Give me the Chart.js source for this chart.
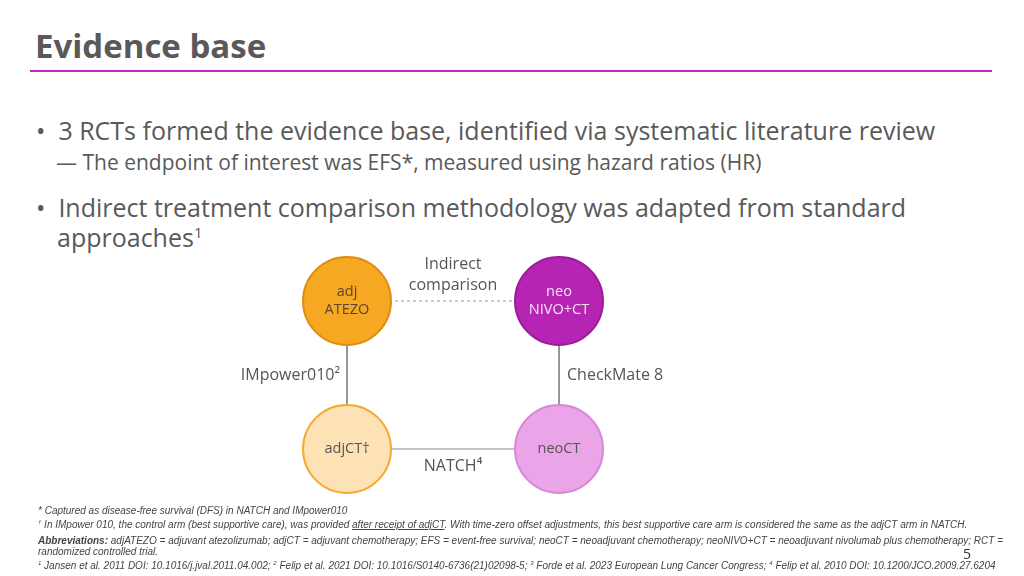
<!DOCTYPE html>
<html><head><meta charset="utf-8">
<script src="https://cdn.jsdelivr.net/npm/chart.js@4"></script>
<style>
body{margin:0;width:1024px;height:576px;position:relative;background:#fff;font-family:"Open Sans",sans-serif;color:#555;overflow:hidden}
.a{position:absolute;white-space:nowrap}
h1{position:absolute;left:35px;top:23px;margin:0;font-size:33px;font-weight:bold;color:#595959;font-family:"Open Sans",sans-serif}
.rule{position:absolute;left:30px;top:70px;width:962px;height:2px;background:#C026B9}
.b1{font-size:25px;color:#595959}
.b2{font-size:21px;color:#595959}
.fn{font-size:10px;font-style:italic;color:#444;font-family:"Liberation Sans",sans-serif}
sup{font-size:60%}
</style></head><body>
<h1>Evidence base</h1><div class="rule"></div>
<div class="a b1" style="left:36px;top:113px">•&nbsp; 3 RCTs formed the evidence base, identified via systematic literature review</div>
<div class="a b2" style="left:56px;top:148px">— The endpoint of interest was EFS*, measured using hazard ratios (HR)</div>
<div class="a b1" style="left:36px;top:190px">•&nbsp; Indirect treatment comparison methodology was adapted from standard</div>
<div class="a b1" style="left:57px;top:220px">approaches<sup>1</sup></div>
<div style="position:absolute;left:241px;top:227px;width:424px;height:296px"><canvas id="c"></canvas></div>
<div class="a fn" style="left:38px;top:505px">* Captured as disease-free survival (DFS) in NATCH and IMpower010</div>
<div class="a fn" style="left:38px;top:519px"><sup>†</sup> In IMpower 010, the control arm (best supportive care), was provided <u>after receipt of adjCT</u>. With time-zero offset adjustments, this best supportive care arm is considered the same as the adjCT arm in NATCH.</div>
<div class="a fn" style="left:38px;top:535px"><b>Abbreviations:</b> adjATEZO = adjuvant atezolizumab; adjCT = adjuvant chemotherapy; EFS = event-free survival; neoCT = neoadjuvant chemotherapy; neoNIVO+CT = neoadjuvant nivolumab plus chemotherapy; RCT =</div>
<div class="a fn" style="left:38px;top:546px">randomized controlled trial.</div>
<div class="a fn" style="left:38px;top:560px"><sup>1</sup> Jansen et al. 2011 DOI: 10.1016/j.jval.2011.04.002; <sup>2</sup> Felip et al. 2021 DOI: 10.1016/S0140-6736(21)02098-5; <sup>3</sup> Forde et al. 2023 European Lung Cancer Congress; <sup>4</sup> Felip et al. 2010 DOI: 10.1200/JCO.2009.27.6204</div>
<div class="a" style="left:963px;top:544px;font-size:14px;color:#333">5</div>
<script>
const nodeNames=[["adj","ATEZO"],["neo","NIVO+CT"],["adjCT†"],["neoCT"]];
const nodeX=[0,1,0,1];
const nodeY=[1,1,0,0];
const edges=[[0,1,"Indirect comparison",true],[0,2,"IMpower010²",false],[1,3,"CheckMate 816³",false],[2,3,"NATCH⁴",false]];
const fills=["#F7A823","#B624B4","#FDE2B5","#EAA4E8"];
const borders=["#E08E12","#9C1C9A","#F5AB30","#D889D6"];
const txt=["#5a4630","#f4e6f4","#555","#555"];
const edgeSets=edges.map(e=>({type:'line',data:[{x:nodeX[e[0]],y:nodeY[e[0]]},{x:nodeX[e[1]],y:nodeY[e[1]]}],borderColor:e[3]?'#999':'#888',borderWidth:1,borderDash:e[3]?[3,3]:[],pointRadius:0,order:2}));
const lab={id:'lab',afterDatasetsDraw(ch){const c=ch.ctx,xs=ch.scales.x,ys=ch.scales.y;c.save();c.textAlign='center';c.textBaseline='middle';
 c.font='14.5px "Open Sans",sans-serif';
 nodeNames.forEach((n,i)=>{const px=xs.getPixelForValue(nodeX[i]),py=ys.getPixelForValue(nodeY[i]);c.fillStyle=txt[i];n.forEach((t,k)=>c.fillText(t,px,py+(k-(n.length-1)/2)*18));});
 c.font='16px "Open Sans",sans-serif';c.fillStyle='#555';
 const mx=xs.getPixelForValue(0.5),x0=xs.getPixelForValue(0),x1=xs.getPixelForValue(1),yt=ys.getPixelForValue(1),yb=ys.getPixelForValue(0),ym=ys.getPixelForValue(0.5);
 c.fillText('Indirect',mx,yt-37);c.fillText('comparison',mx,yt-16);
 c.textAlign='right';c.fillText(edges[1][2],x0-7,ym);
 c.textAlign='left';c.fillText(edges[2][2],x1+8,ym);
 c.textAlign='center';c.fillText(edges[3][2],mx,yb+17);
 c.restore();}};
new Chart(document.getElementById('c'),{type:'scatter',
 data:{datasets:[...edgeSets,{data:nodeX.map((x,i)=>({x,y:nodeY[i]})),pointRadius:44,pointHoverRadius:44,backgroundColor:fills,borderColor:borders,borderWidth:2,order:1}]},
 options:{responsive:true,maintainAspectRatio:false,animation:false,events:[],layout:{padding:0,autoPadding:false},
 plugins:{legend:{display:false},tooltip:{enabled:false}},
 scales:{x:{type:'linear',min:-0.5,max:1.5,display:false},y:{type:'linear',min:-0.5,max:1.5,display:false}}},
 plugins:[lab]});
</script></body></html>
